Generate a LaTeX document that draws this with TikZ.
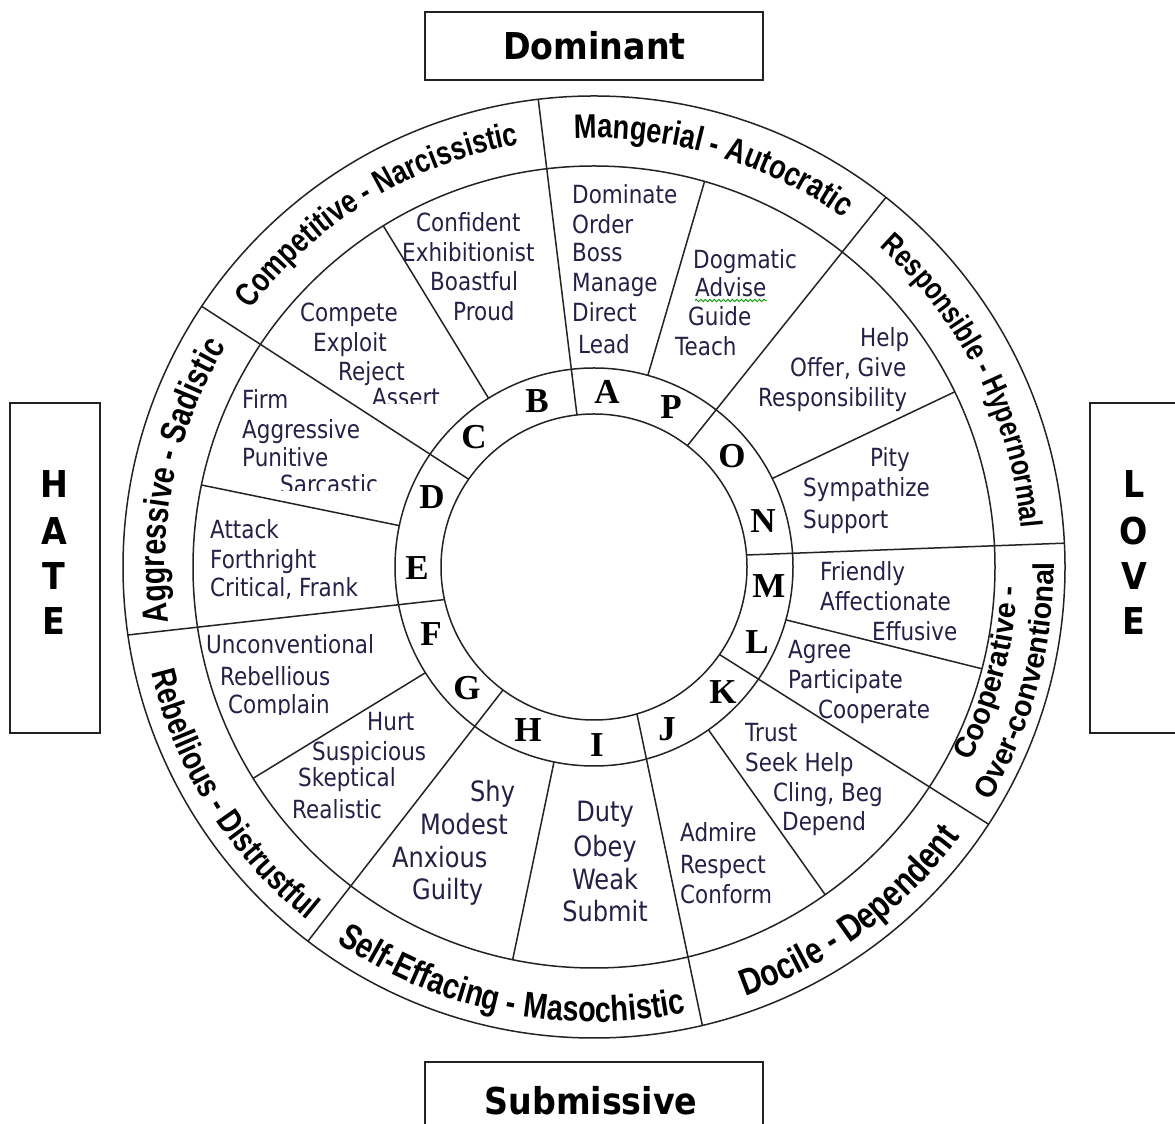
\documentclass[tikz,border=0pt]{standalone}
\usepackage{fontspec}
\usetikzlibrary{decorations.text,decorations.pathmorphing}
\newfontfamily\wordfont[FakeStretch=0.86]{DejaVu Sans}
\newfontfamily\boxfont[FakeStretch=0.9]{DejaVu Sans}
\newfontfamily\arcfont[FakeStretch=0.8]{Liberation Sans}
\newfontfamily\arcfontwide[FakeStretch=0.95]{Liberation Sans}
\newfontfamily\letterfont{Liberation Serif}
\definecolor{ink}{RGB}{38,32,70}
\definecolor{linegray}{RGB}{35,35,35}
\begin{document}
\begin{tikzpicture}[x=1pt, y=1pt,
  ringline/.style={draw=linegray, line width=1.5pt},
  boxframe/.style={draw=linegray, line width=2.2pt, inner sep=0pt},
  wordtext/.style={inner sep=0pt, text=ink, font=\wordfont\fontsize{25}{30}\selectfont},
  bigword/.style={inner sep=0pt, text=ink, font=\wordfont\fontsize{28}{33}\selectfont},
  ringletter/.style={inner sep=0pt, font=\letterfont\bfseries\fontsize{35}{35}\selectfont, text height=23pt, text depth=0pt},
  boxtext/.style={inner sep=0pt, font=\boxfont\bfseries\fontsize{37}{37}\selectfont},
  arclabel/.style n args={2}{decorate, decoration={text along path, text align=center,
      text={|\arcfont\bfseries\fontsize{#1}{#1}\selectfont|#2}}},
  arclabelwide/.style n args={2}{decorate, decoration={text along path, text align=center,
      text={|\arcfontwide\bfseries\fontsize{#1}{#1}\selectfont|#2}}}
]
\path[use as bounding box, fill=white] (0,0) rectangle (1175,1124);
\clip (0,0) rectangle (1175,1124);

\coordinate (ctr) at (594,557);

% the four concentric rings
\draw[ringline] (ctr) circle[radius=153];
\draw[ringline] (ctr) circle[radius=199];
\draw[ringline] (ctr) circle[radius=401];
\draw[ringline] (ctr) circle[radius=471];

\begin{scope}[shift={(ctr)}]
  % octant dividers, inner circle to outer circle
  \foreach \a/\b [count=\i] in {96.4/96.8, 52.4/51.7, 4.5/2.9, 325.1/326.9,
                                 286.3/283.3, 233.5/232.6, 192.3/188.3, 145.0/146.4}{
    \coordinate (din\i) at (\a:153);
    \coordinate (dout\i) at (\b:471);
    \draw[ringline] (din\i) -- (dout\i);
  }
  % sector dividers inside the word ring
  \foreach \a/\b [count=\i] in {122.0/121.7, 74.3/74.0, 26.4/25.9, 344.6/345.3,
                                 305.1/305.2, 258.4/258.3, 212.1/211.8, 168.0/168.2}{
    \coordinate (sin\i) at (\a:199);
    \coordinate (sout\i) at (\b:401);
    \draw[ringline] (sin\i) -- (sout\i);
  }

  % octant titles on the outer band (upper half clockwise, lower half counter-clockwise)
  \path[arclabel={34}{Mangerial - Autocratic}] (101.5:429) arc[start angle=101.5, end angle=45.5, radius=429];
  \path[arclabel={31}{Responsible - Hypernormal}] (54.7:429) arc[start angle=54.7, end angle=-1.3, radius=429];
  \path[arclabel={33}{Competitive - Narcissistic}] (149.6:429) arc[start angle=149.6, end angle=93.6, radius=429];
  \path[arclabel={35.5}{Aggressive - Sadistic}] (196.2:429) arc[start angle=196.2, end angle=140.2, radius=429];
  \path[arclabel={34}{Rebellious - Distrustful}] (184.2:455) arc[start angle=184.2, end angle=240.2, radius=455];
  \path[arclabel={36}{Self-Effacing - Masochistic}] (230.6:455) arc[start angle=230.6, end angle=286.6, radius=455];
  \path[arclabel={37.5}{Docile - Dependent}] (278.5:455) arc[start angle=278.5, end angle=334.5, radius=455];
  \path[arclabelwide={30}{Cooperative -}] (317:424) arc[start angle=317, end angle=373, radius=424];
  \path[arclabelwide={30}{Over-conventional}] (317:460) arc[start angle=317, end angle=373, radius=460];
\end{scope}

% letters of the sixteen segments
\foreach \x/\y/\l in {607/392/A, 537/401/B, 474/437/C, 432/497/D, 417/568/E, 431/634/F,
                      467/688/G, 528/730/H, 597/745/I, 667/729/J, 723/692/K, 757/642/L,
                      769/586/M, 763/521/N, 732/456/O, 671/407/P}
  \node[ringletter] (ring\l) at (\x, 1124-\y) {\l};

% behaviour words, one node per line (left edge, line centre)
\foreach \x/\y/\txt [count=\n] in {
   572/195/Dominate, 572/225/Order, 572/253/Boss, 572/283/Manage, 572/313/Direct, 578/345/Lead,
   693/260/Dogmatic, 688/317/Guide, 675/347/Teach,
   860/338/Help, 790/368/{Offer, Give}, 758/398/Responsibility,
   870/458/Pity, 803/488/Sympathize, 803/520/Support,
   820/572/Friendly, 820/602/Affectionate, 872/632/Effusive,
   788/650/Agree, 788/680/Participate, 818/710/Cooperate,
   745/733/Trust, 745/763/{Seek Help}, 773/793/{Cling, Beg}, 782/822/Depend,
   680/833/Admire, 680/865/Respect, 680/895/Conform,
   367/722/Hurt, 312/752/Suspicious, 298/778/Skeptical, 292/810/Realistic,
   206/645/Unconventional, 220/677/Rebellious,
   210/530/Attack, 210/560/Forthright, 210/588/{Critical, Frank},
   242/400/Firm, 242/430/Aggressive, 242/458/Punitive,
   300/313/Compete, 313/343/Exploit, 338/372/Reject,
   416/223/Confident, 402/253/Exhibitionist, 430/282/Boastful, 453/312/Proud}
  \node[wordtext, anchor=base west] (w\n) at (\x, 1115-\y) {\txt};

\node[wordtext, anchor=base west] (adv) at (695, 1115-288) {Advise};
\draw[green!60!black, line width=0.9pt, decorate,
      decoration={snake, amplitude=1.2pt, segment length=4.5pt}]
  ([yshift=-3.5pt]adv.base west) -- ([yshift=-3.5pt]adv.base east);

% words whose text frame cuts them off at the bottom
\begin{scope}
  \clip (360,1124-380) rectangle (460,1124-404);
  \node[wordtext, anchor=base west] (assert) at (372, 1115-398) {Assert};
\end{scope}
\begin{scope}
  \clip (270,1124-470) rectangle (400,1124-491);
  \node[wordtext, anchor=base west] (sarcastic) at (280, 1115-485) {Sarcastic};
\end{scope}
\begin{scope}
  \clip (215,1124-690) rectangle (345,1124-715);
  \node[wordtext, anchor=base west] (complain) at (228, 1115-705) {Complain};
\end{scope}

% larger words of the lower sectors
\foreach \x/\y/\txt [count=\n] in {470/792/Shy, 420/825/Modest, 392/858/Anxious, 412/890/Guilty}
  \node[bigword, anchor=base west] (shy\n) at (\x, 1114-\y) {\txt};
\foreach \y/\txt [count=\n] in {812/Duty, 847/Obey, 880/Weak, 912/Submit}
  \node[bigword, anchor=base] (duty\n) at (605, 1114-\y) {\txt};

% axis boxes
\node[boxframe, minimum width=338, minimum height=68] (dombox) at (594, 1124-46) {};
\node[boxtext, anchor=base] (dom) at (594.5, 1124-60) {Dominant};
\node[boxframe, minimum width=338, minimum height=90] (subbox) at (594, 1124-1107) {};
\node[boxtext, anchor=base] (sub) at (591, 1124-1115) {Submissive};
\node[boxframe, minimum width=90, minimum height=330] (hatebox) at (55, 1124-568) {};
\node[boxframe, minimum width=110, minimum height=330] (lovebox) at (1145, 1124-568) {};
\foreach \y/\l [count=\n] in {498/H, 545/A, 590/T, 635/E}
  \node[boxtext, anchor=base] (hate\n) at (54, 1124-\y) {\l};
\foreach \y/\l [count=\n] in {498/L, 545/O, 590/V, 635/E}
  \node[boxtext, anchor=base] (love\n) at (1134, 1124-\y) {\l};
\end{tikzpicture}
\end{document}
